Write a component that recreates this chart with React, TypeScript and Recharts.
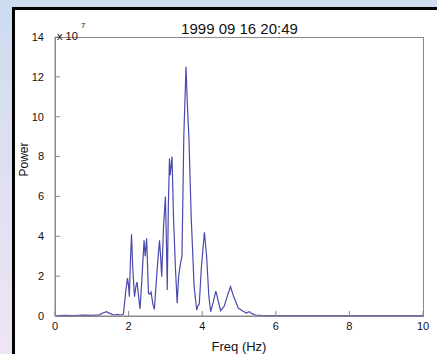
import { LineChart, Line, XAxis, YAxis } from 'recharts';

// spectrum, power in units of 1e7
const freq = [
  0.0, 0.3, 0.5, 0.8, 1.0, 1.2, 1.3, 1.4, 1.5, 1.6, 1.7, 1.78, 1.86, 1.92, 1.97,
  2.0, 2.02, 2.05, 2.08, 2.11, 2.16, 2.2, 2.23, 2.27, 2.31, 2.36, 2.42, 2.45, 2.49,
  2.54, 2.58, 2.61, 2.66, 2.7, 2.77, 2.84, 2.87, 2.9, 2.95, 3.0, 3.03, 3.05, 3.08,
  3.11, 3.13, 3.18, 3.22, 3.27, 3.32, 3.36, 3.41, 3.45, 3.5, 3.56, 3.6, 3.64, 3.7,
  3.78, 3.85, 3.88, 3.92, 3.98, 4.06, 4.12, 4.18, 4.23, 4.3, 4.37, 4.43, 4.5, 4.6,
  4.7, 4.77, 4.85, 4.98, 5.1, 5.2, 5.28, 5.35, 5.45, 5.6, 6.0, 7.0, 8.0, 9.0, 10.0
];
const power = [
  0.02, 0.03, 0.02, 0.04, 0.03, 0.06, 0.15, 0.22, 0.12, 0.05, 0.08, 0.05, 0.1, 1.2, 1.9,
  1.5, 0.97, 2.8, 4.1, 2.5, 0.97, 1.5, 1.7, 1.0, 0.35, 1.8, 3.8, 3.0, 3.9,
  1.14, 1.1, 1.2, 0.6, 0.33, 2.2, 3.8, 3.0, 1.97, 4.5, 6.0, 3.5, 1.3, 5.5,
  7.9, 7.07, 8.0, 5.0, 2.5, 0.64, 2.0, 2.64, 3.0, 9.0, 12.5, 10.5, 8.9, 5.0,
  1.5, 0.3, 0.5, 0.6, 2.5, 4.2, 3.0, 1.0, 0.22, 0.7, 1.25, 0.8, 0.27, 0.5,
  1.1, 1.47, 1.0, 0.4, 0.25, 0.15, 0.22, 0.12, 0.05, 0.03, 0.02, 0.02, 0.02, 0.02, 0.02
];
const xTicks = [0, 2, 4, 6, 8, 10];
const yTicks = [0, 2, 4, 6, 8, 10, 12, 14];

const data = freq.map((f, i) => ({ f, p: power[i] }));

const font = '"Liberation Sans", Arial, sans-serif';
const axisGray = '#8a8a8a';
const line = { stroke: axisGray, strokeWidth: 1 };

// force the axis and tick lines to paint
const css = `
.recharts-cartesian-axis-line, .recharts-cartesian-axis-tick-line {
  stroke: ${axisGray} !important;
  stroke-width: 1px !important;
  stroke-opacity: 1 !important;
  visibility: visible !important;
}
`;

// chart sits inside the white panel, whose content box starts at (15, 10)
export default function App() {
  return (
    <div
      style={{
        position: 'fixed',
        left: 0,
        top: 0,
        width: 437,
        height: 354,
        overflow: 'hidden',
        background: 'linear-gradient(180deg, #cddcef 0%, #dfe0f2 50%, #efe4f3 100%)',
        fontFamily: font
      }}
    >
      <style>{css}</style>
      <div
        style={{
          position: 'absolute',
          left: 12,
          top: 7,
          borderTop: '3px solid #000',
          borderLeft: '3px solid #000',
          background: '#fff'
        }}
      >
        {/* plot frame (MATLAB box) */}
        <div
          style={{
            position: 'absolute',
            left: 40,
            top: 27,
            width: 369,
            height: 280,
            border: `1px solid ${axisGray}`,
            boxSizing: 'border-box'
          }}
        />
        <LineChart
          width={422}
          height={344}
          data={data}
          margin={{ top: 27, right: 14, bottom: 0, left: 0 }}
        >
          <XAxis
            xAxisId="b"
            dataKey="f"
            type="number"
            domain={[0, 10]}
            ticks={xTicks}
            height={38}
            axisLine={line}
            tickLine={line}
            tickSize={-5}
            tickMargin={11}
            tick={{ fill: '#111', fontSize: 11, fontFamily: font }}
            label={{ value: 'Freq (Hz)', position: 'insideBottom', offset: 3, fill: '#111', fontSize: 13, fontFamily: font }}
          />
          <XAxis
            xAxisId="t"
            dataKey="f"
            orientation="top"
            type="number"
            domain={[0, 10]}
            ticks={xTicks}
            height={0}
            axisLine={line}
            tickLine={line}
            tickSize={-5}
            tick={false}
          />
          <YAxis
            yAxisId="l"
            type="number"
            domain={[0, 14]}
            ticks={yTicks}
            width={40}
            axisLine={line}
            tickLine={line}
            tickSize={-5}
            tickMargin={16}
            tick={{ fill: '#111', fontSize: 11, fontFamily: font }}
            label={{ value: 'Power', angle: -90, position: 'insideLeft', offset: 9, fill: '#111', fontSize: 12, fontFamily: font }}
          />
          <YAxis
            yAxisId="r"
            orientation="right"
            type="number"
            domain={[0, 14]}
            ticks={yTicks}
            width={0}
            axisLine={line}
            tickLine={line}
            tickSize={-5}
            tick={false}
          />
          {/* invisible series so the top/right box axes get drawn */}
          <Line
            xAxisId="t"
            yAxisId="r"
            type="linear"
            dataKey="p"
            stroke="none"
            dot={false}
            activeDot={false}
            isAnimationActive={false}
          />
          <Line
            xAxisId="b"
            yAxisId="l"
            type="linear"
            dataKey="p"
            stroke="#4a4aad"
            strokeWidth={1.2}
            dot={false}
            isAnimationActive={false}
          />
        </LineChart>
      </div>
      <div
        style={{
          position: 'absolute',
          left: 0,
          width: 479,
          top: 20,
          textAlign: 'center',
          fontSize: 15,
          color: '#111'
        }}
      >
        1999 09 16 20:49
      </div>
      <div style={{ position: 'absolute', left: 57, top: 30, fontSize: 11, color: '#111' }}>x 10</div>
      <div style={{ position: 'absolute', left: 81, top: 21, fontSize: 8, color: '#111' }}>7</div>
    </div>
  );
}
